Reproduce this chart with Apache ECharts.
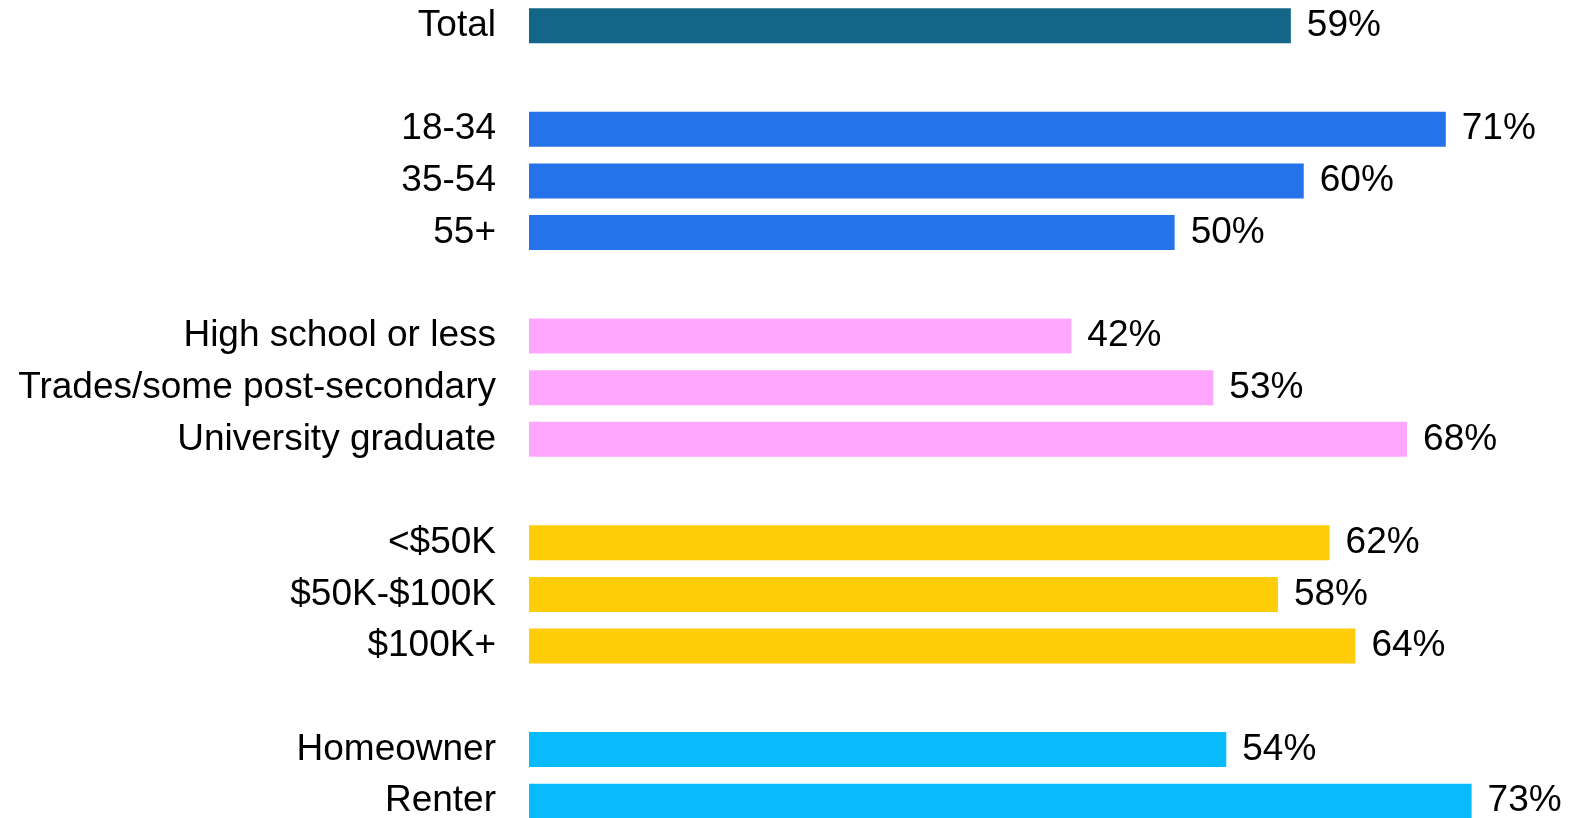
<!DOCTYPE html>
<html>
<head>
<meta charset="utf-8">
<script src="https://cdn.jsdelivr.net/npm/echarts@6/dist/echarts.min.js"></script>
<style>
  html, body { margin: 0; padding: 0; background: #fff; overflow: hidden; }
  /* taller than the window so the last row can run off the bottom edge */
  #chart { width: 1571px; height: 840px; position: relative; top: -10px; }
</style>
</head>
<body>
<div id="chart"></div>
<script>
// empty strings are the gaps between groups
const categories = [
  'Total', '',
  '18-34', '35-54', '55+', '',
  'High school or less', 'Trades/some post-secondary', 'University graduate', '',
  '<$50K', '$50K-$100K', '$100K+', '',
  'Homeowner', 'Renter'
]
const values = [59, null, 71, 60, 50, null, 42, 53, 68, null, 62, 58, 64, null, 54, 73]
const groupColors = [
  '#136688', null,
  '#2473EA', '#2473EA', '#2473EA', null,
  '#FFA6FF', '#FFA6FF', '#FFA6FF', null,
  '#FFCC08', '#FFCC08', '#FFCC08', null,
  '#08BBFF', '#08BBFF'
]

const chart = echarts.init(document.getElementById('chart'))
chart.setOption({
  animation: false,
  grid: { left: 529, top: 10, width: 1033, height: 827 },
  xAxis: {
    type: 'value',
    min: 0,
    max: 80,
    show: false
  },
  yAxis: {
    type: 'category',
    inverse: true,
    data: categories,
    axisLine: { show: false },
    axisTick: { show: false },
    axisLabel: {
      margin: 33,
      padding: [10, 0, 0, 0],
      fontFamily: 'Liberation Sans',
      fontSize: 37,
      color: '#000'
    }
  },
  series: [{
    type: 'bar',
    barWidth: 35,
    data: values.map((v, i) => v == null ? '-' : { value: v, itemStyle: { color: groupColors[i] } }),
    label: {
      show: true,
      position: 'right',
      distance: 16,
      padding: [10, 0, 0, 0],
      formatter: '{c}%',
      fontFamily: 'Liberation Sans',
      fontSize: 37,
      color: '#000'
    }
  }]
})
</script>
</body>
</html>
